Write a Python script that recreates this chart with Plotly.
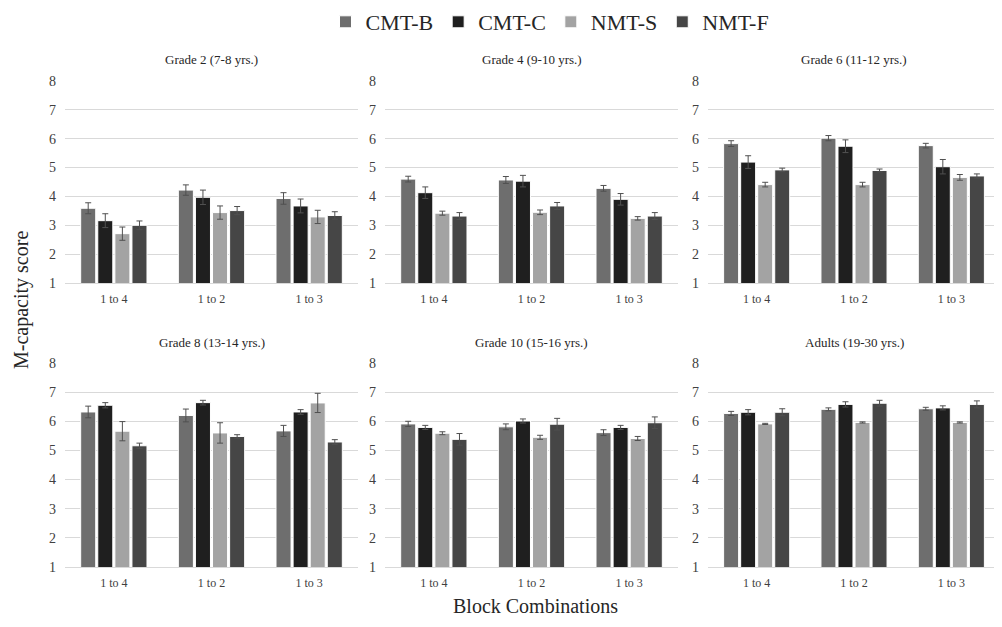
import plotly.graph_objects as go

categories = ["1 to 4", "1 to 2", "1 to 3"]
series = ["CMT-B", "CMT-C", "NMT-S", "NMT-F"]
colors = ["#6e6e6e", "#1f1f1f", "#a3a3a3", "#464646"]
panels = ["Grade 2 (7-8 yrs.)", "Grade 4 (9-10 yrs.)", "Grade 6 (11-12 yrs.)",
          "Grade 8 (13-14 yrs.)", "Grade 10 (15-16 yrs.)", "Adults (19-30 yrs.)"]

# values[panel][series] -> per category
g2_mean = [[3.59, 4.22, 3.93], [3.16, 3.97, 3.67], [2.71, 3.44, 3.29], [3.00, 3.51, 3.34]]
g2_err = [[0.19, 0.18, 0.20], [0.24, 0.25, 0.24], [0.23, 0.23, 0.23], [0.15, 0.14, 0.13]]
g4_mean = [[4.60, 4.57, 4.28], [4.13, 4.53, 3.90], [3.42, 3.45, 3.24], [3.32, 3.67, 3.32]]
g4_err = [[0.10, 0.12, 0.10], [0.20, 0.20, 0.20], [0.07, 0.08, 0.06], [0.12, 0.12, 0.12]]
g6_mean = [[5.83, 6.02, 5.76], [5.19, 5.74, 5.03], [4.41, 4.41, 4.66], [4.92, 4.90, 4.71]]
g6_err = [[0.10, 0.09, 0.08], [0.22, 0.22, 0.25], [0.08, 0.08, 0.10], [0.06, 0.05, 0.07]]
g8_mean = [[6.32, 6.20, 5.67], [6.55, 6.64, 6.32], [5.66, 5.60, 6.63], [5.16, 5.48, 5.29]]
g8_err = [[0.20, 0.22, 0.19], [0.09, 0.08, 0.08], [0.33, 0.35, 0.33], [0.09, 0.06, 0.08]]
g10_mean = [[5.91, 5.81, 5.61], [5.79, 6.01, 5.79], [5.59, 5.45, 5.41], [5.38, 5.90, 5.95]]
g10_err = [[0.09, 0.10, 0.10], [0.07, 0.07, 0.07], [0.05, 0.07, 0.07], [0.20, 0.20, 0.20]]
ad_mean = [[6.27, 6.41, 6.43], [6.31, 6.58, 6.46], [5.91, 5.96, 5.96], [6.31, 6.62, 6.58]]
ad_err = [[0.07, 0.05, 0.05], [0.09, 0.09, 0.07], [0.02, 0.02, 0.02], [0.12, 0.10, 0.12]]

means = [g2_mean, g4_mean, g6_mean, g8_mean, g10_mean, ad_mean]
errs = [g2_err, g4_err, g6_err, g8_err, g10_err, ad_err]

# figure is placed at an 8px page offset; work in screen pixels and convert
OFF = 8
W, H = 994, 619


def fx(px):
    return (px - OFF) / W


def fy(py):
    return 1 - (py - OFF) / H


xdom_px = [(65, 358), (385, 678), (708, 1000)]
ydom_px = [(81, 283), (363, 567)]
FONT = "Liberation Serif, Times New Roman, serif"

fig = go.Figure()
for p in range(6):
    r, c = divmod(p, 3)
    idx = "" if p == 0 else str(p + 1)
    for s in range(4):
        fig.add_trace(go.Bar(
            x=categories, y=means[p][s], name=series[s],
            marker=dict(color=colors[s], line=dict(color="white", width=1)),
            error_y=dict(type="data", array=errs[p][s], color="#505050", thickness=1, width=3),
            xaxis="x" + idx, yaxis="y" + idx,
            showlegend=(p == 0), legendgroup=series[s],
        ))
    x0, x1 = xdom_px[c]
    yt, yb = ydom_px[r]
    fig.update_layout(**{
        "xaxis" + idx: dict(domain=[fx(x0), min(fx(x1), 1)], anchor="y" + idx,
                            showgrid=False, showline=True, linecolor="#d9d9d9", linewidth=1,
                            ticks="", tickfont=dict(family=FONT, size=12, color="#404040"),
                            ticklabelstandoff=5),
        "yaxis" + idx: dict(domain=[fy(yb), fy(yt)], anchor="x" + idx,
                            range=[1, 8], dtick=1, showgrid=True, gridcolor="#d9d9d9",
                            zeroline=False, ticks="",
                            tickfont=dict(family=FONT, size=14, color="#404040"),
                            ticklabelstandoff=8),
    })
    fig.add_annotation(text=panels[p], x=fx((x0 + x1) / 2), y=fy(yt - 21),
                       xref="paper", yref="paper", showarrow=False,
                       xanchor="center", yanchor="middle",
                       font=dict(family=FONT, size=13, color="#262626"))

fig.add_annotation(text="M-capacity score", x=fx(21), y=fy(300), xref="paper", yref="paper",
                   xanchor="center", yanchor="middle",
                   textangle=-90, showarrow=False, font=dict(family=FONT, size=20, color="#262626"))
fig.add_annotation(text="Block Combinations", x=fx(535), y=fy(606), xref="paper", yref="paper",
                   xanchor="center", yanchor="middle",
                   showarrow=False, font=dict(family=FONT, size=20, color="#262626"))

fig.update_layout(
    width=W, height=H, barmode="group", bargap=0.3, bargroupgap=0.12,
    margin=dict(l=0, r=0, t=0, b=0, autoexpand=False),
    font=dict(family=FONT),
    plot_bgcolor="white", paper_bgcolor="white",
    legend=dict(orientation="h", x=fx(550), y=fy(22), xanchor="center", yanchor="middle",
                font=dict(family=FONT, size=22, color="#262626"), itemwidth=30,
                tracegroupgap=0, traceorder="normal"),
)
fig.write_html("out.html")
